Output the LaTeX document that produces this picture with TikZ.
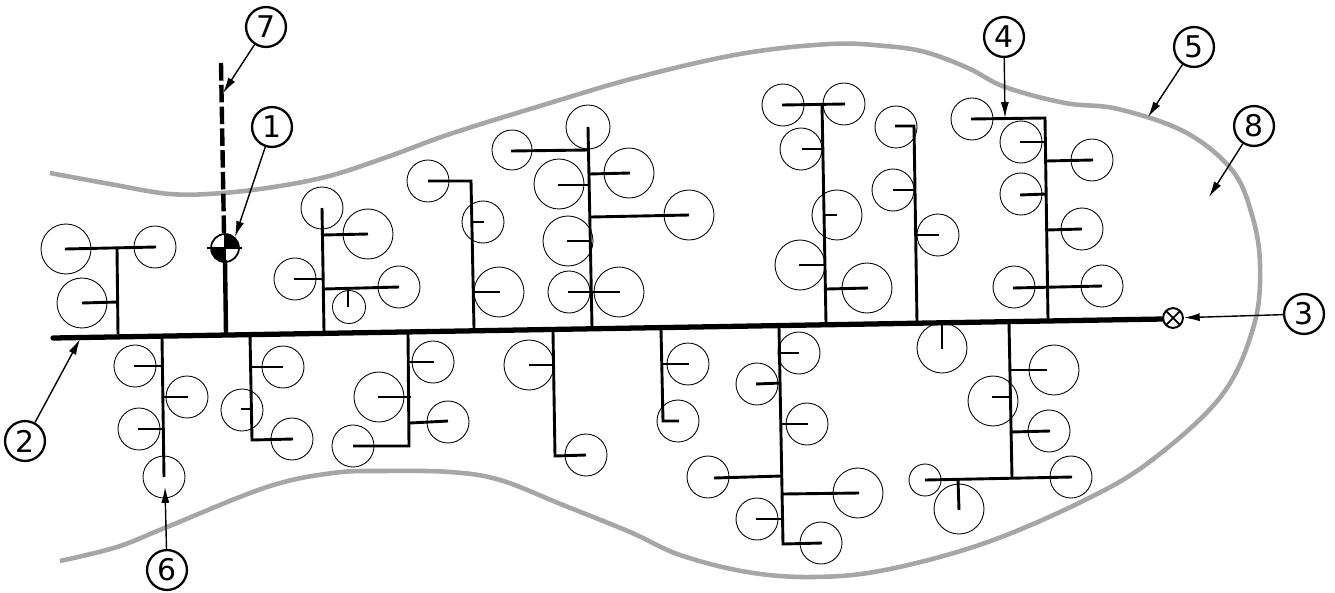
\documentclass[tikz,border=0pt]{standalone}
\usepackage{fontspec}
\setmainfont{DejaVu Sans}
\usetikzlibrary{arrows.meta}
\definecolor{boundarygray}{HTML}{A6A6A6}
\tikzset{
    boundary/.style={boundarygray,line width=2.6pt},
    mainline/.style={line width=3pt,line cap=round},
    trunk/.style={line width=1.65pt,line join=miter},
    twig/.style={line width=1.65pt},
    crown/.style={line width=0.5pt},
    callout/.style={circle,draw,line width=1.3pt,minimum size=22.7pt,inner sep=0pt,font=\fontsize{17}{17}\selectfont},
    pointer/.style={line width=0.8pt,-{Latex[length=9pt,width=4.6pt]}}
}

\begin{document}
\begin{tikzpicture}[x=0.02cm,y=-0.02cm]
    \useasboundingbox (0,0) rectangle (1335,592);
    \draw[boundary] plot[smooth,tension=0.6] coordinates {(50,173) (110,184) (170,194) (223,193) (280,186) (333,175) (390,156) (450,134) (540,106) (635,78) (740,54) (830,44) (885,46) (925,52) (968,68) (1005,87) (1065,103) (1118,109) (1185,132) (1232,170) (1252,215) (1260,265) (1254,325) (1222,395) (1152,460) (1085,500) (985,543) (885,570) (813,577) (747,572) (680,555) (630,532) (563,505) (500,480) (450,472) (383,471) (333,473) (267,487) (167,527) (117,547) (60,561)};

    \draw[mainline] (53,338)--(1163,319);
    \draw[line width=2.5pt,dash pattern=on 10pt off 2.4pt] (221,63)--(224,234);
    \draw[line width=2.5pt] (225,260)--(226,334);
    \node [circle,draw,line width=1pt,minimum size=15.9pt,inner sep=0pt] (well) at (225,248){};
    \fill (225,248)--(225,234) arc[start angle=270,end angle=360,radius=14]--cycle;
    \fill (225,248)--(225,262) arc[start angle=90,end angle=180,radius=14]--cycle;
    \draw[line width=0.8pt] (207,248)--(242,248);
    \draw[line width=0.8pt] (225,234)--(225,262);
    \node [circle,draw,fill=white,line width=1.1pt,minimum size=11.3pt,inner sep=0pt] (valve) at (1173,318){};
    \draw[line width=1pt] (1166,311)--(1180,325);
    \draw[line width=1pt] (1180,311)--(1166,325);

    \draw[trunk] (118,334)--(117,248);
    \draw[twig] (65,249)--(156,247);
    \draw[twig] (82,303)--(118,302);
    \draw[crown] (66,249) circle (25);
    \draw[crown] (155,247) circle (21);
    \draw[crown] (82,303) circle (25);

    \draw[trunk] (324,331)--(322,208);
    \draw[twig] (323,235)--(368,234);
    \draw[twig] (294,279)--(323,279);
    \draw[twig] (324,289)--(399,287);
    \draw[twig] (348,288)--(348,307);
    \draw[crown] (322,208) circle (21);
    \draw[crown] (368,234) circle (25);
    \draw[crown] (295,279) circle (21);
    \draw[crown] (399,287) circle (21);
    \draw[crown] (349,307) circle (16.5);

    \draw[trunk] (474,328)--(471,181)--(428,181);
    \draw[twig] (471,222)--(484,222);
    \draw[twig] (473,292)--(500,292);
    \draw[crown] (428,181) circle (21);
    \draw[crown] (483,222) circle (21);
    \draw[crown] (499,292) circle (25);

    \draw[trunk] (592,327)--(588,127);
    \draw[twig] (511,151)--(589,150);
    \draw[twig] (589,174)--(630,173);
    \draw[twig] (558,185)--(590,185);
    \draw[twig] (591,217)--(689,215);
    \draw[twig] (567,241)--(591,241);
    \draw[twig] (568,292)--(620,292);
    \draw[crown] (588,127) circle (22);
    \draw[crown] (512,150) circle (20);
    \draw[crown] (629,173) circle (25);
    \draw[crown] (559,184) circle (25);
    \draw[crown] (689,215) circle (25);
    \draw[crown] (568,241) circle (25);
    \draw[crown] (569,292) circle (21);
    \draw[crown] (619,292) circle (25);

    \draw[trunk] (826,323)--(822,104);
    \draw[twig] (782,105)--(845,104);
    \draw[twig] (802,149)--(823,149);
    \draw[twig] (825,215)--(837,215);
    \draw[twig] (799,265)--(825,265);
    \draw[twig] (827,289)--(868,288);
    \draw[crown] (783,105) circle (21);
    \draw[crown] (844,104) circle (21);
    \draw[crown] (801,149) circle (21);
    \draw[crown] (837,215) circle (25);
    \draw[crown] (800,265) circle (25);
    \draw[crown] (867,288) circle (25);

    \draw[trunk] (917,322)--(914,126)--(895,126);
    \draw[twig] (893,190)--(915,190);
    \draw[twig] (916,235)--(939,235);
    \draw[crown] (896,127) circle (21);
    \draw[crown] (893,190) circle (21);
    \draw[crown] (938,235) circle (21);

    \draw[trunk] (1048,319)--(1045,118)--(971,119);
    \draw[twig] (1020,142)--(1045,142);
    \draw[twig] (1046,161)--(1093,160);
    \draw[twig] (1020,195)--(1046,194);
    \draw[twig] (1047,230)--(1082,229);
    \draw[twig] (1013,288)--(1102,286);
    \draw[crown] (972,119) circle (21);
    \draw[crown] (1021,142) circle (21);
    \draw[crown] (1092,160) circle (21);
    \draw[crown] (1021,194) circle (21);
    \draw[crown] (1082,229) circle (21);
    \draw[crown] (1014,287) circle (21);
    \draw[crown] (1102,286) circle (21);

    \draw[trunk] (162,337)--(164,477);
    \draw[twig] (134,366)--(163,366);
    \draw[twig] (163,397)--(188,397);
    \draw[twig] (138,429)--(163,429);
    \draw[crown] (135,366) circle (21);
    \draw[crown] (187,397) circle (21);
    \draw[crown] (139,429) circle (21);
    \draw[crown] (164,477) circle (21);

    \draw[trunk] (250,335)--(252,440)--(293,439);
    \draw[twig] (251,367)--(283,367);
    \draw[twig] (241,409)--(251,409);
    \draw[crown] (283,367) circle (21);
    \draw[crown] (242,410) circle (21);
    \draw[crown] (292,439) circle (21);

    \draw[trunk] (408,333)--(409,446)--(353,446);
    \draw[twig] (408,362)--(434,362);
    \draw[twig] (378,397)--(411,397);
    \draw[twig] (410,423)--(448,421);
    \draw[crown] (433,362) circle (21);
    \draw[crown] (379,397) circle (25);
    \draw[crown] (448,422) circle (21);
    \draw[crown] (353,446) circle (21);

    \draw[trunk] (553,332)--(555,456)--(586,455);
    \draw[twig] (529,365)--(554,365);
    \draw[crown] (529,365) circle (25);
    \draw[crown] (586,455) circle (21);

    \draw[trunk] (661,329)--(663,421)--(679,421);
    \draw[twig] (661,364)--(689,364);
    \draw[crown] (688,364) circle (21);
    \draw[crown] (678,421) circle (21);

    \draw[trunk] (779,327)--(783,544)--(822,543);
    \draw[twig] (780,353)--(799,353);
    \draw[twig] (756,384)--(781,383);
    \draw[twig] (781,424)--(808,424);
    \draw[twig] (714,478)--(782,476);
    \draw[twig] (783,494)--(859,493);
    \draw[twig] (756,519)--(782,519);
    \draw[crown] (799,353) circle (21);
    \draw[crown] (757,384) circle (21);
    \draw[crown] (807,424) circle (21);
    \draw[crown] (708,477) circle (21);
    \draw[crown] (858,493) circle (25);
    \draw[crown] (757,519) circle (21);
    \draw[crown] (821,543) circle (21);

    \draw[trunk] (942,323)--(942,349);
    \draw[crown] (942,348) circle (25);

    \draw[trunk] (1009,323)--(1012,478);
    \draw[twig] (925,480)--(1072,477);
    \draw[twig] (1010,370)--(1047,370);
    \draw[twig] (992,397)--(1010,397);
    \draw[twig] (1011,432)--(1050,431);
    \draw[twig] (958,480)--(959,510);
    \draw[crown] (1054,370) circle (25);
    \draw[crown] (993,401) circle (25);
    \draw[crown] (1049,431) circle (21);
    \draw[crown] (925,480) circle (16);
    \draw[crown] (1071,477) circle (21);
    \draw[crown] (959,509) circle (25);

    \node [callout] (L1) at (272,127){1};
    \node [callout] (L2) at (25,441){2};
    \node [callout] (L3) at (1304,314){3};
    \node [callout] (L4) at (1004,37){4};
    \node [callout] (L5) at (1194,47){5};
    \node [callout] (L6) at (167,570){6};
    \node [callout] (L7) at (266,27){7};
    \node [callout] (L8) at (1254,126){8};
    \coordinate (T1) at (235,237);
    \coordinate (T2) at (80,339);
    \coordinate (T4) at (1005,118);
    \coordinate (T5) at (1148,117);
    \coordinate (T6) at (165,487);
    \coordinate (T7) at (223,93);
    \coordinate (T8) at (1209,197);
    \draw[pointer] (L1)--(T1);
    \draw[pointer] (L2)--(T2);
    \draw[pointer] (L3)--(valve);
    \draw[pointer] (L4)--(T4);
    \draw[pointer] (L5)--(T5);
    \draw[pointer] (L6)--(T6);
    \draw[pointer] (L7)--(T7);
    \draw[pointer] (L8)--(T8);
\end{tikzpicture}
\end{document}
